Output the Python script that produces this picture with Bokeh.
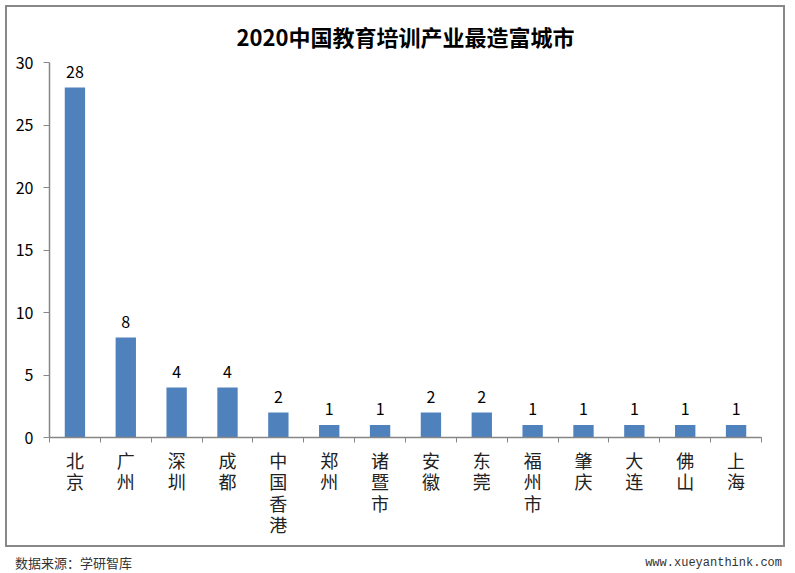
from bokeh.plotting import figure
from bokeh.models import ColumnDataSource, FixedTicker, Range1d, Div
from bokeh.layouts import column
from bokeh.core.properties import value
from bokeh.embed import file_html
from bokeh.resources import INLINE

title_text = "2020中国教育培训产业最造富城市"
cities = ["北京", "广州", "深圳", "成都", "中国香港", "郑州", "诸暨市",
          "安徽", "东莞", "福州市", "肇庆", "大连", "佛山", "上海"]
counts = [28, 8, 4, 4, 2, 1, 1, 2, 2, 1, 1, 1, 1, 1]
y_ticks = [0, 5, 10, 15, 20, 25, 30]
source_text = "数据来源：学研智库"
site_text = "www.xueyanthink.com"

n = len(cities)
xs = [i + 0.5 for i in range(n)]
src = ColumnDataSource(dict(x=xs, y=counts, label=[str(v) for v in counts]))

W, H = 776, 538
BL, BR, BT, BB = 42, 26, 54, 112
p = figure(width=W, height=H, output_backend="svg", toolbar_location=None,
           x_range=Range1d(0, n), y_range=Range1d(0, 30),
           min_border_left=BL, min_border_right=BR,
           min_border_top=BT, min_border_bottom=BB,
           margin=(5, 0, 0, 5),
           styles={"border": "2px solid #888888", "box-sizing": "content-box"})
p.outline_line_color = None
p.xgrid.grid_line_color = None
p.ygrid.grid_line_color = None
p.background_fill_color = "white"
p.border_fill_color = "white"

p.title.text = title_text
p.title.align = "center"
p.title.text_font = "Noto Sans CJK SC"
p.title.text_font_size = "22px"
p.title.text_font_style = "bold"
p.title.text_color = "black"
p.title.standoff = 21

bar_color = "#4F81BD"
p.vbar(x="x", top="y", width=0.4, source=src, fill_color=bar_color, line_color=None)
p.text(x="x", y="y", text="label", source=src, text_align="center",
       text_baseline="alphabetic", y_offset=-16, text_font_size="16px",
       text_color="black", text_font=value("Noto Sans CJK SC"))

axis_color = "#868686"
p.yaxis.ticker = FixedTicker(ticks=y_ticks)
p.yaxis.axis_line_color = axis_color
p.yaxis.axis_line_width = 1.5
p.yaxis.major_tick_line_color = axis_color
p.yaxis.major_tick_out = 6
p.yaxis.major_tick_in = 0
p.yaxis.minor_tick_line_color = None
p.yaxis.major_label_text_font = "Noto Sans CJK SC"
p.yaxis.major_label_text_font_size = "16px"
p.yaxis.major_label_text_color = "black"
p.yaxis.major_label_standoff = 10

p.xaxis.ticker = FixedTicker(ticks=xs, minor_ticks=list(range(n + 1)))
p.xaxis.major_label_overrides = {x: "\n".join(c) for x, c in zip(xs, cities)}
p.xaxis.axis_line_color = axis_color
p.xaxis.axis_line_width = 1.5
p.xaxis.major_tick_line_color = None
p.xaxis.major_tick_out = 0
p.xaxis.major_tick_in = 0
p.xaxis.minor_tick_line_color = axis_color
p.xaxis.minor_tick_out = 5
p.xaxis.minor_tick_in = 0
p.xaxis.major_label_text_font = "Noto Sans CJK SC"
p.xaxis.major_label_text_font_size = "18px"
p.xaxis.major_label_text_line_height = 0.83
p.xaxis.major_label_text_color = "#222222"
p.xaxis.major_label_standoff = 4

footer = Div(
    text=('<div style="display:flex;justify-content:space-between;width:767px;'
          'align-items:center;">'
          '<span style="font-family:\'Noto Sans CJK SC\';font-size:13px;color:#333333;">'
          f'{source_text}</span>'
          '<span style="font-family:\'Liberation Mono\';font-size:12px;color:#333333;">'
          f'{site_text}</span></div>'),
    width=770, height=20, margin=(7, 0, 0, 15))

layout = column(p, footer, spacing=0)
open("out.html", "w").write(file_html(layout, INLINE))
